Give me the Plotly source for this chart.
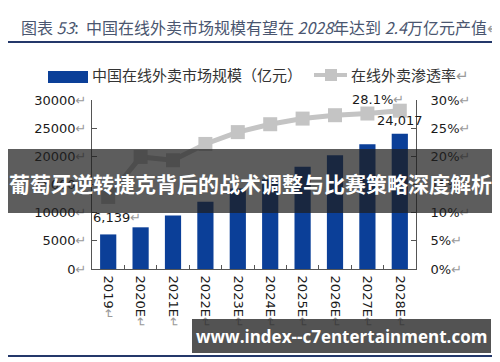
import plotly.graph_objects as go

categories = ["2019", "2020E", "2021E", "2022E", "2023E", "2024E", "2025E", "2026E", "2027E", "2028E"]
market_size = [6139, 7400, 9500, 11950, 14300, 15950, 18150, 20200, 22150, 24017]   # 亿元
penetration = [12.8, 19.9, 19.3, 22.2, 24.3, 25.7, 26.7, 27.3, 27.6, 28.1]          # %
left_ticks = [0, 5000, 10000, 15000, 20000, 25000, 30000]
right_ticks = [0, 5, 10, 15, 20, 25, 30]

OFF = 8                      # page body margin of the browser
W, H = 500 - OFF, 362 - OFF
L, R, T, B = 92, 416, 100, 269  # plot area in screen pixels

def px(x):
    return (x - L) / (R - L)

def py(y):
    return (B - y) / (B - T)

RET = "<span style='color:#9a9a9a'>↵</span>"
BLUE = "#0b3f98"
GRAY = "#c4c4c4"
TXT = "#1a1a1a"

pos = list(range(len(categories)))

fig = go.Figure()
fig.add_trace(go.Bar(
    x=pos, y=market_size, marker=dict(color=BLUE, line=dict(width=0)),
    width=0.5, name="中国在线外卖市场规模（亿元）", showlegend=False, yaxis="y"))
fig.add_trace(go.Scatter(
    x=pos, y=penetration, mode="lines+markers",
    line=dict(color=GRAY, width=5),
    marker=dict(symbol="square", size=14, color=GRAY),
    name="在线外卖渗透率", showlegend=False, yaxis="y2"))

tickfont = dict(family="DejaVu Sans, Verdana", size=13, color=TXT)

fig.update_layout(
    width=W, height=H,
    margin=dict(l=L - OFF, r=W - (R - OFF), t=T - OFF, b=H - (B - OFF), pad=0),
    paper_bgcolor="white", plot_bgcolor="white",
    xaxis=dict(
        range=[-0.5, len(categories) - 0.5],
        tickmode="array", tickvals=pos,
        ticktext=[c + RET for c in categories],
        tickangle=90, tickfont=tickfont,
        showline=True, linecolor="#555555", linewidth=1,
        ticks="", ticklabelstandoff=3,
        minor=dict(tickmode="array", tickvals=[p + 0.5 for p in pos[:-1]],
                   ticks="inside", ticklen=4, tickcolor="#555555", showgrid=False),
        showgrid=False, zeroline=False, fixedrange=True),
    yaxis=dict(
        range=[0, 30000], tickmode="array", tickvals=left_ticks,
        ticktext=[f"{v}{RET}" for v in left_ticks],
        tickfont=tickfont,
        showline=True, linecolor="#555555", linewidth=1,
        ticks="inside", ticklen=5, tickcolor="#555555", ticklabelstandoff=2,
        showgrid=False, zeroline=False),
    yaxis2=dict(
        range=[0, 30], overlaying="y", side="right",
        tickmode="array", tickvals=right_ticks,
        ticktext=[f"{v}%{RET}" for v in right_ticks],
        tickfont=tickfont,
        showline=True, linecolor="#555555", linewidth=1,
        ticks="inside", ticklen=5, tickcolor="#555555", ticklabelstandoff=11,
        showgrid=False, zeroline=False),
)

shapes = []
annotations = []

# Title and rule
annotations.append(dict(
    x=px(19), y=py(27), xref="paper", yref="paper", xanchor="left", yanchor="middle",
    text="图表 <i>53</i>:  中国在线外卖市场规模有望在 <i>2028</i>年达到 <i>2.4</i>万亿元产值" + RET,
    showarrow=False, font=dict(family="Noto Sans CJK SC", size=16, color="#4a5670")))
shapes.append(dict(type="line", xref="paper", yref="paper",
                   x0=px(8), x1=px(492), y0=py(42), y1=py(42),
                   line=dict(color="#24386a", width=2)))

# Legend (manual)
shapes.append(dict(type="rect", xref="paper", yref="paper",
                   x0=px(48), x1=px(88), y0=py(83), y1=py(71),
                   fillcolor=BLUE, line=dict(width=0)))
annotations.append(dict(
    x=px(90), y=py(74), xref="paper", yref="paper", xanchor="left", yanchor="middle",
    text="中国在线外卖市场规模（亿元）", showarrow=False,
    font=dict(family="Noto Sans CJK SC", size=15, color="#333333")))
shapes.append(dict(type="line", xref="paper", yref="paper",
                   x0=px(314), x1=px(347), y0=py(75), y1=py(75),
                   line=dict(color=GRAY, width=4)))
shapes.append(dict(type="rect", xref="paper", yref="paper",
                   x0=px(325), x1=px(337), y0=py(81), y1=py(69),
                   fillcolor=GRAY, line=dict(width=0)))
annotations.append(dict(
    x=px(349), y=py(74), xref="paper", yref="paper", xanchor="left", yanchor="middle",
    text="在线外卖渗透率" + RET, showarrow=False,
    font=dict(family="Noto Sans CJK SC", size=15, color="#333333")))

# Data labels
annotations.append(dict(
    x=pos[0], y=market_size[0], xref="x", yref="y",
    xanchor="left", yanchor="bottom", xshift=-17, yshift=7,
    text=f"{market_size[0]:,}" + RET, showarrow=False,
    font=dict(family="DejaVu Sans, Verdana", size=13, color=TXT)))
annotations.append(dict(
    x=pos[-1], y=market_size[-1], xref="x", yref="y",
    xanchor="center", yanchor="bottom", xshift=0, yshift=4,
    text=f"{market_size[-1]:,}", showarrow=False,
    font=dict(family="DejaVu Sans, Verdana", size=13, color=TXT)))
annotations.append(dict(
    x=pos[-1], y=penetration[-1], xref="x", yref="y2",
    xanchor="right", yanchor="bottom", xshift=6, yshift=2,
    text=f"{penetration[-1]}%" + RET, showarrow=False,
    font=dict(family="DejaVu Sans, Verdana", size=13, color=TXT)))

# Overlay banners
shapes.append(dict(type="rect", xref="paper", yref="paper", layer="above",
                   x0=px(8), x1=px(492), y0=py(213), y1=py(149),
                   fillcolor="rgba(30,30,30,0.72)", line=dict(width=0)))
annotations.append(dict(
    x=px(250), y=py(183), xref="paper", yref="paper", xanchor="center", yanchor="middle",
    text="<b>葡萄牙逆转捷克背后的战术调整与比赛策略深度解析</b>", showarrow=False,
    font=dict(family="Noto Sans CJK SC", size=21, color="white")))
shapes.append(dict(type="line", xref="paper", yref="paper",
                   x0=px(8), x1=px(492), y0=py(356), y1=py(356),
                   line=dict(color="#24386a", width=2)))
shapes.append(dict(type="rect", xref="paper", yref="paper", layer="above",
                   x0=px(192), x1=px(491), y0=py(353), y1=py(319),
                   fillcolor="rgba(40,40,40,0.8)", line=dict(width=0)))
annotations.append(dict(
    x=px(341), y=py(336), xref="paper", yref="paper", xanchor="center", yanchor="middle",
    text="<b>www.index--c7entertainment.com</b>", showarrow=False,
    font=dict(family="Open Sans", size=17, color="white")))

fig.update_layout(shapes=shapes, annotations=annotations)
fig.write_html("out.html")
